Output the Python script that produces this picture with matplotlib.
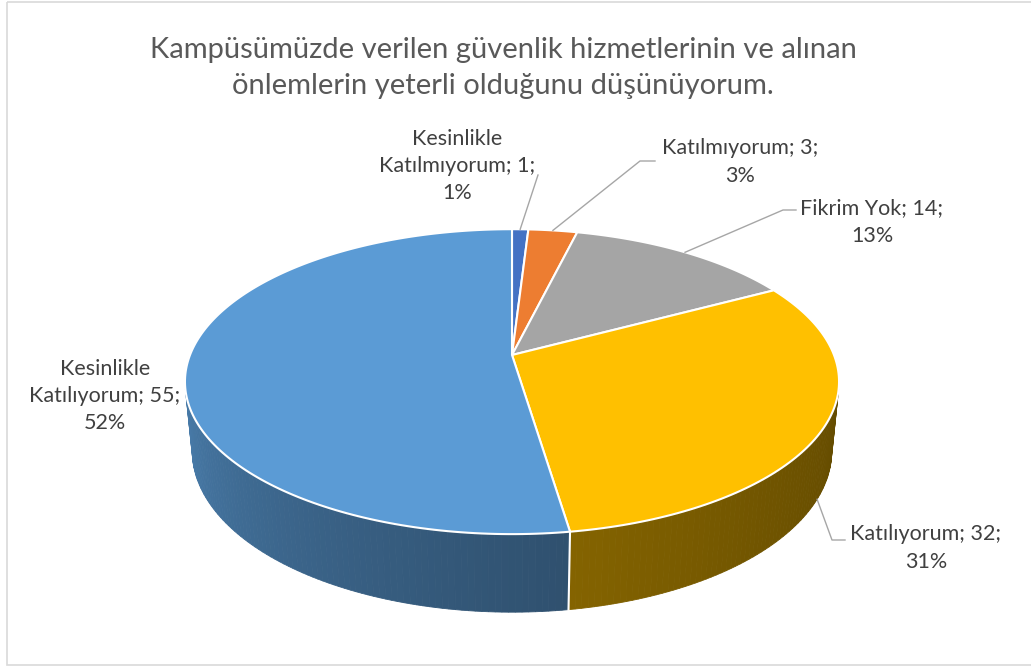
import numpy as np
import matplotlib.pyplot as plt
from matplotlib.patches import Polygon, Rectangle
from matplotlib.colors import to_rgb

plt.rcParams['font.family'] = ['Lato', 'DejaVu Sans']

# Veriler
title = "Kampüsümüzde verilen güvenlik hizmetlerinin ve alınan\nönlemlerin yeterli olduğunu düşünüyorum."
names = ["Kesinlikle\nKatılmıyorum", "Katılmıyorum", "Fikrim Yok", "Katılıyorum", "Kesinlikle\nKatılıyorum"]
values = [1, 3, 14, 32, 55]
percents = [1, 3, 13, 31, 52]
colors = ["#4472C4", "#ED7D31", "#A5A5A5", "#FFC000", "#5B9BD5"]

# Etiket yerleşimi (piksel)
label_pos = [(457, 166), (740, 162), (872, 222), (926, 548), (105, 396)]
elbows = [[(538, 175)], [(640, 161), (655, 161)], [(783, 210), (796, 210)],
          [(832, 540), (845, 540)], []]
anchor_on_bottom = [False, False, False, True, False]

# 3B görünüm parametreleri
CX, CY, S = 512, 355, 322
phi = np.arcsin(0.459)
sp, cp = np.sin(phi), np.cos(phi)
D, H = 5.08, 0.245


def proj(th, y, r=1.0):
    x = r * np.sin(th)
    z = -r * np.cos(th)
    ys = y * cp - z * sp
    zc = z * cp + y * sp
    k = D / (D - zc)
    return CX + S * x * k, CY - S * ys * k, zc


def shade(th_deg):
    t = np.clip((th_deg - 90) / 180, 0, 1)
    return 0.39 + 0.46 * t ** 1.6


fig = plt.figure(figsize=(10.31, 6.69), dpi=100)
ax = fig.add_axes([0, 0, 1, 1])
ax.set_xlim(0, 1031)
ax.set_ylim(669, 0)
ax.axis('off')

ax.add_patch(Rectangle((6.5, 1.5), 1030, 663.5, fill=False, ec='#D9D9D9', lw=1.2))

total = sum(values)
bounds = np.concatenate([[0], np.cumsum(values)]) / total * 2 * np.pi
vis_lo = np.arccos(-1 / (D * cp))
vis_hi = 2 * np.pi - vis_lo

# yan yüzeyler
quads = []
for i, v in enumerate(values):
    a, b = max(bounds[i], vis_lo), min(bounds[i + 1], vis_hi)
    if a >= b:
        continue
    ts = np.linspace(a, b, max(int(np.degrees(b - a)), 2) + 1)
    base = np.array(to_rgb(colors[i]))
    for t0, t1 in zip(ts[:-1], ts[1:]):
        p = [proj(t0, 0), proj(t1, 0), proj(t1, -H), proj(t0, -H)]
        col = base * shade(np.degrees((t0 + t1) / 2))
        quads.append((np.mean([q[2] for q in p]), [(q[0], q[1]) for q in p], col))
for _, pts, col in sorted(quads, key=lambda q: q[0]):
    ax.add_patch(Polygon(pts, closed=True, fc=col, ec=col, lw=0.6))

# görünür dilim sınırları
for t in bounds[1:-1]:
    if vis_lo < t < vis_hi:
        x0, y0, _ = proj(t, 0)
        x1, y1, _ = proj(t, -H)
        ax.plot([x0, x1], [y0, y1], color='white', lw=1.5)

# üst yüzeyler
for i, v in enumerate(values):
    ts = np.linspace(bounds[i], bounds[i + 1], max(int(np.degrees(bounds[i + 1] - bounds[i])), 2) + 1)
    pts = [(CX, CY)] + [proj(t, 0)[:2] for t in ts]
    ax.add_patch(Polygon(pts, closed=True, fc=colors[i], ec='white', lw=1.5, joinstyle='round'))

# etiketler
for i, v in enumerate(values):
    mid = (bounds[i] + bounds[i + 1]) / 2
    ax_, ay_, _ = proj(mid, -H if anchor_on_bottom[i] else 0)
    if elbows[i]:
        xs = [ax_] + [e[0] for e in elbows[i]]
        ys = [ay_] + [e[1] for e in elbows[i]]
        ax.plot(xs, ys, color='#A6A6A6', lw=1)
    ax.text(label_pos[i][0], label_pos[i][1], f"{names[i]}; {v};\n{percents[i]}%",
            ha='center', va='center', fontsize=15.5, color='#404040', linespacing=1.45)

ax.text(503, 68, title, ha='center', va='center', fontsize=21, color='#595959', linespacing=1.45)

fig.savefig('out.png', dpi=100)
